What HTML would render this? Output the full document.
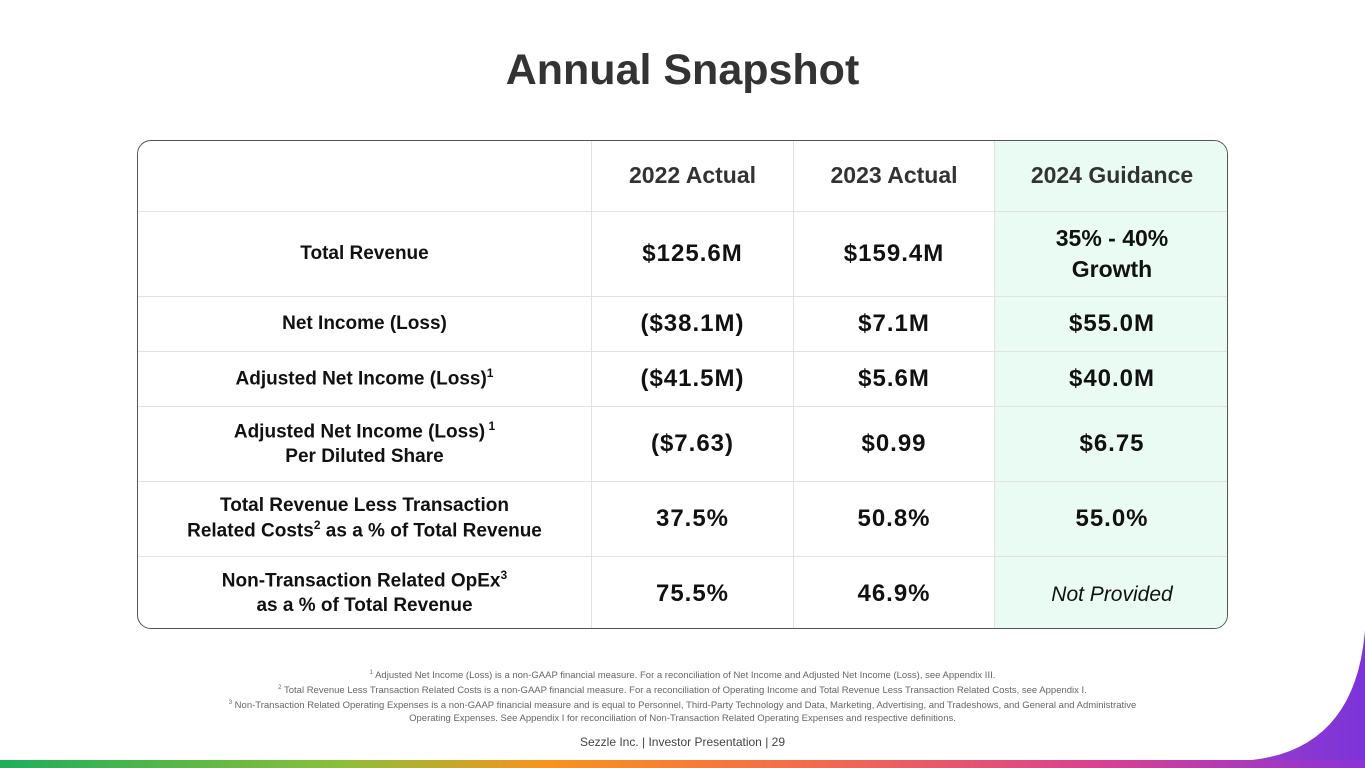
<!DOCTYPE html>
<html><head><meta charset="utf-8"><style>
*{margin:0;padding:0;box-sizing:border-box}
body{width:1365px;height:768px;position:relative;overflow:hidden;background:#fff;font-family:"Liberation Sans",sans-serif;color:#111}
.abs{position:absolute}
#title{left:0;width:1365px;top:46px;text-align:center;font-size:43px;font-weight:bold;color:#333}
#tbl{left:137px;top:140px;width:1091px;height:489px;border:1.5px solid #555;border-radius:14px;overflow:hidden}
.cell{position:absolute;display:flex;align-items:center;justify-content:center;text-align:center;border-right:1px solid #e2e2e2;border-bottom:1px solid #e2e2e2;line-height:1.3}
.cell>span{display:block}
.hdr{font-size:23px;font-weight:bold;color:#333}
.lbl{font-size:19px;font-weight:bold}
.val{font-size:24px;font-weight:bold;letter-spacing:1px}
.g{background:#eafbf3}
sup{font-size:12px}
#notes{left:0;width:1365px;top:667px;text-align:center;font-size:9.5px;color:#666;line-height:13px}
#foot{left:0;width:1365px;top:735px;text-align:center;font-size:12px;color:#444}
#bar{left:0;top:760px;width:1365px;height:8px;background:linear-gradient(90deg,#1fae5a,#8cbf3a 25%,#f7941d 40%,#f26a4f 60%,#d9428f 80%,#8a33d6)}
</style></head><body>
<div id="title" class="abs">Annual Snapshot</div>
<svg class="abs" style="left:1150px;top:630px" width="215" height="138">
<defs><linearGradient id="pg" x1="0" y1="0" x2="1" y2="0"><stop offset="0" stop-color="#b03fc0"/><stop offset="1" stop-color="#7b34d9"/></linearGradient></defs>
<path d="M215 0 L215 138 L0 138 L0 131 L90 131 Q205 125 215 0 Z" fill="url(#pg)"/>
</svg>
<div id="tbl" class="abs">
<script>
const cols=[0,454,656,857,1091];
const rows=[0,71,156,211,266,341,416,489];
const headers=["2022 Actual","2023 Actual","2024 Guidance"];
const labels=["Total Revenue","Net Income (Loss)","Adjusted Net Income (Loss)<sup>1</sup>","Adjusted Net Income (Loss)<sup> 1</sup><br>Per Diluted Share","Total Revenue Less Transaction<br>Related Costs<sup>2</sup> as a % of Total Revenue","Non-Transaction Related OpEx<sup>3</sup><br>as a % of Total Revenue"];
const v2022=["$125.6M","($38.1M)","($41.5M)","($7.63)","37.5%","75.5%"];
const v2023=["$159.4M","$7.1M","$5.6M","$0.99","50.8%","46.9%"];
const v2024=["<span style='letter-spacing:0;font-size:23px;line-height:1.25'>35% - 40%<br>Growth</span>","$55.0M","$40.0M","$6.75","55.0%","<i style='font-weight:normal;font-size:21px;letter-spacing:0'>Not Provided</i>"];
const tbl=document.currentScript.parentNode;
function cell(r,c,html,cls){const d=document.createElement('div');d.className='cell '+cls+(c===3?' g':'');
d.style.left=cols[c]+'px';d.style.top=rows[r]+'px';d.style.width=(cols[c+1]-cols[c])+'px';d.style.height=(rows[r+1]-rows[r])+'px';
if(c===3)d.style.borderRight='none';if(r===rows.length-2)d.style.borderBottom='none';
d.innerHTML='<span>'+html+'</span>';


tbl.appendChild(d);}
cell(0,0,'','hdr');
headers.forEach((h,i)=>cell(0,i+1,h,'hdr'));
labels.forEach((l,i)=>{cell(i+1,0,l,'lbl');cell(i+1,1,v2022[i],'val');cell(i+1,2,v2023[i],'val');cell(i+1,3,v2024[i],'val');});
</script>
</div>
<div id="notes" class="abs">
<sup style="font-size:6px">1</sup> Adjusted Net Income (Loss) is a non-GAAP financial measure. For a reconciliation of Net Income and Adjusted Net Income (Loss), see Appendix III.<br>
<sup style="font-size:6px">2</sup> Total Revenue Less Transaction Related Costs is a non-GAAP financial measure. For a reconciliation of Operating Income and Total Revenue Less Transaction Related Costs, see Appendix I.<br>
<sup style="font-size:6px">3</sup> Non-Transaction Related Operating Expenses is a non-GAAP financial measure and is equal to Personnel, Third-Party Technology and Data, Marketing, Advertising, and Tradeshows, and General and Administrative<br>
Operating Expenses. See Appendix I for reconciliation of Non-Transaction Related Operating Expenses and respective definitions.</div>
<div id="foot" class="abs">Sezzle Inc. | Investor Presentation | 29</div>
<div id="bar" class="abs"></div>
</body></html>
